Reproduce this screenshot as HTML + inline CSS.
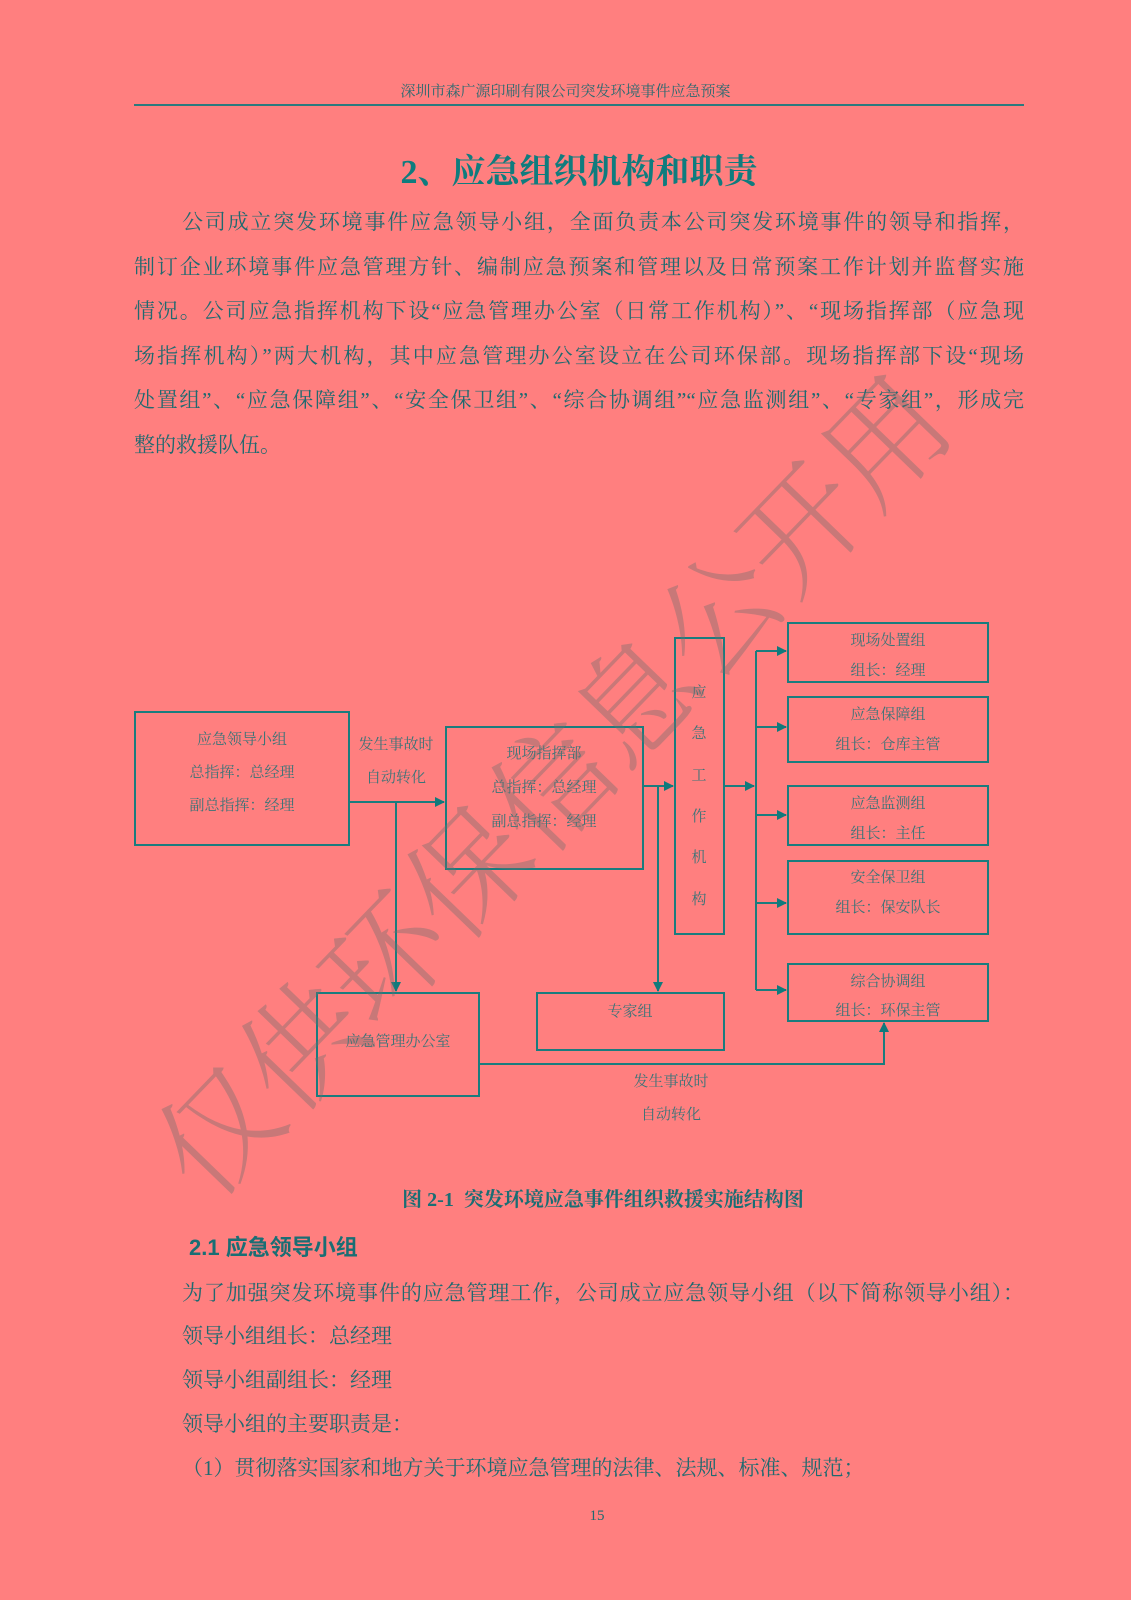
<!DOCTYPE html>
<html><head><meta charset="utf-8"><style>
html,body{margin:0;padding:0}
body{width:1131px;height:1600px;background:#ff7f7f;position:relative;overflow:hidden;font-family:"Liberation Serif","Noto Serif CJK SC","Noto Sans CJK SC",serif;color:#1f6a70}
.a{position:absolute;white-space:nowrap}
.p{position:absolute;left:134px;width:890px;font-size:21px;line-height:24px;text-align:justify;text-align-last:justify;white-space:nowrap}
.b{position:absolute;font-size:21px;line-height:24px;white-space:nowrap}
</style></head><body>
<div class="a" style="left:0;width:1131px;top:80px;text-align:center;font-size:15px;color:#2a6a70">深圳市森广源印刷有限公司突发环境事件应急预案</div>
<div class="a" style="left:134px;top:104px;width:890px;height:2px;background:#2a7a7e"></div>
<div class="a" style="left:0;width:1158px;top:144px;text-align:center;font-size:34px;font-weight:bold;color:#0f7c7e">2、应急组织机构和职责</div>

<div class="p" style="top:210px;left:182px;width:842px">公司成立突发环境事件应急领导小组，全面负责本公司突发环境事件的领导和指挥，</div>
<div class="p" style="top:255px">制订企业环境事件应急管理方针、编制应急预案和管理以及日常预案工作计划并监督实施</div>
<div class="p" style="top:299px">情况。公司应急指挥机构下设“应急管理办公室（日常工作机构）”、“现场指挥部（应急现</div>
<div class="p" style="top:344px">场指挥机构）”两大机构，其中应急管理办公室设立在公司环保部。现场指挥部下设“现场</div>
<div class="p" style="top:388px">处置组”、“应急保障组”、“安全保卫组”、“综合协调组”“应急监测组”、“专家组”，形成完</div>
<div class="b" style="top:433px;left:134px">整的救援队伍。</div>

<svg class="a" style="left:0;top:0" width="1131" height="1600" font-family="Liberation Serif, Noto Serif CJK SC, serif" font-size="15" fill="#3a7478">
<defs><marker id="ar" markerWidth="10" markerHeight="10" refX="9" refY="5" orient="auto" markerUnits="userSpaceOnUse"><path d="M0,0 L10,5 L0,10 z" fill="#107a7c"/></marker></defs>
<g fill="none" stroke="#1a7c7e" stroke-width="2">
<rect x="135" y="712" width="214" height="133"/>
<rect x="446" y="727" width="197" height="142"/>
<rect x="675" y="638" width="49" height="296"/>
<rect x="788" y="623" width="200" height="59"/>
<rect x="788" y="697" width="200" height="65"/>
<rect x="788" y="786" width="200" height="59"/>
<rect x="788" y="861" width="200" height="73"/>
<rect x="788" y="964" width="200" height="57"/>
<rect x="537" y="993" width="187" height="57"/>
<rect x="317" y="993" width="162" height="103"/>
<path d="M349,802 H444" marker-end="url(#ar)"/>
<path d="M396,802 V991" marker-end="url(#ar)"/>
<path d="M643,786 H673" marker-end="url(#ar)"/>
<path d="M658,786 V991" marker-end="url(#ar)"/>
<path d="M724,786 H754" marker-end="url(#ar)"/>
<path d="M756,651 V990"/>
<path d="M756,651 H786" marker-end="url(#ar)"/>
<path d="M756,727 H786" marker-end="url(#ar)"/>
<path d="M756,815 H786" marker-end="url(#ar)"/>
<path d="M756,903 H786" marker-end="url(#ar)"/>
<path d="M756,990 H786" marker-end="url(#ar)"/>
<path d="M479,1064 H884 V1023" marker-end="url(#ar)"/>
</g>
<g text-anchor="middle">
<text x="242" y="744">应急领导小组</text>
<text x="242" y="777">总指挥：总经理</text>
<text x="242" y="810">副总指挥：经理</text>
<text x="396" y="749">发生事故时</text>
<text x="396" y="782">自动转化</text>
<text x="544" y="758">现场指挥部</text>
<text x="544" y="792">总指挥：总经理</text>
<text x="544" y="826">副总指挥：经理</text>
<text x="699" y="697">应</text><text x="699" y="738">急</text><text x="699" y="780">工</text><text x="699" y="821">作</text><text x="699" y="862">机</text><text x="699" y="904">构</text>
<text x="888" y="645">现场处置组</text><text x="888" y="675">组长：经理</text>
<text x="888" y="719">应急保障组</text><text x="888" y="749">组长：仓库主管</text>
<text x="888" y="808">应急监测组</text><text x="888" y="838">组长：主任</text>
<text x="888" y="882">安全保卫组</text><text x="888" y="912">组长：保安队长</text>
<text x="888" y="986">综合协调组</text><text x="888" y="1015">组长：环保主管</text>
<text x="630" y="1016">专家组</text>
<text x="398" y="1046">应急管理办公室</text>
<text x="671" y="1086">发生事故时</text>
<text x="671" y="1119">自动转化</text>
</g>
</svg>

<div class="a" style="left:0;width:1206px;top:1183px;text-align:center;font-size:20px;font-weight:bold;color:#1a6e74">图 2-1&nbsp; 突发环境应急事件组织救援实施结构图</div>
<div class="a" style="left:189px;top:1230px;font-size:22px;font-weight:bold;color:#1a6e74;font-family:'Liberation Sans','Noto Sans CJK SC',sans-serif">2.1 应急领导小组</div>
<div class="b" style="top:1281px;left:182px;width:842px;text-align:justify;text-align-last:justify">为了加强突发环境事件的应急管理工作，公司成立应急领导小组（以下简称领导小组）：</div>
<div class="b" style="top:1324px;left:182px">领导小组组长：总经理</div>
<div class="b" style="top:1368px;left:182px">领导小组副组长：经理</div>
<div class="b" style="top:1412px;left:182px">领导小组的主要职责是：</div>
<div class="b" style="top:1456px;left:182px">（1）贯彻落实国家和地方关于环境应急管理的法律、法规、标准、规范；</div>
<div class="a" style="left:0;width:1194px;top:1508px;text-align:center;font-size:15px">15</div>

<div class="a" style="left:34px;top:781px;width:900px;text-align:center;font-size:120px;line-height:130px;color:rgba(110,110,110,0.38);transform:rotate(-46deg);font-family:'Noto Serif CJK SC',serif;font-weight:300">仅供环保信息公开用</div>
</body></html>
